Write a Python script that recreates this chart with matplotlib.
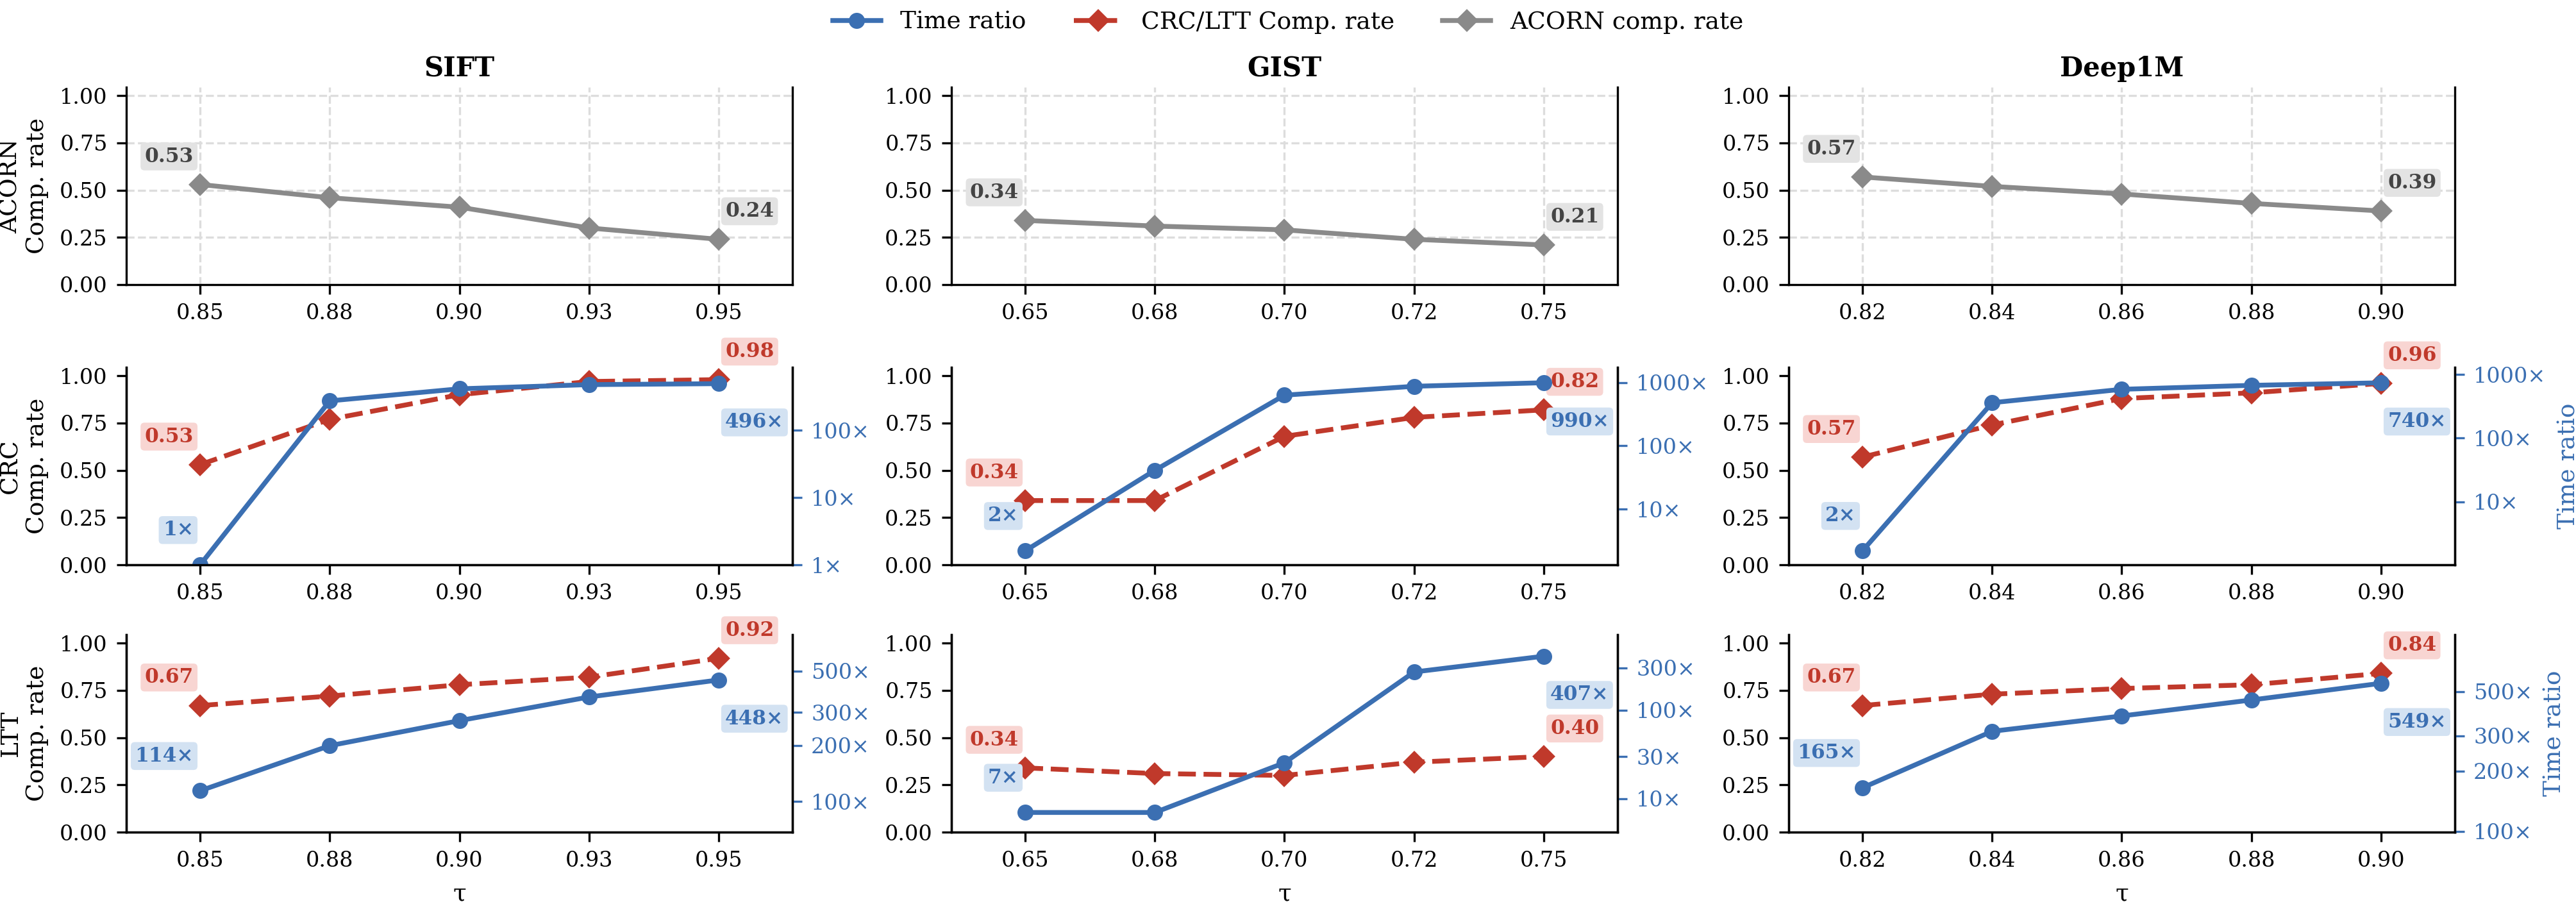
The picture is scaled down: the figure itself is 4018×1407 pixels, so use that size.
import matplotlib
matplotlib.use('Agg')
import matplotlib.pyplot as plt
from matplotlib.ticker import NullLocator

plt.rcParams['font.family'] = ['DejaVu Serif']
plt.rcParams['font.size'] = 8

datasets = ['SIFT', 'GIST', 'Deep1M']

tau_sift = [0.85, 0.875, 0.90, 0.925, 0.95]
tau_gist = [0.65, 0.675, 0.70, 0.725, 0.75]
tau_deep = [0.82, 0.84, 0.86, 0.88, 0.90]

acorn_sift = [0.53, 0.46, 0.41, 0.30, 0.24]
acorn_gist = [0.34, 0.31, 0.29, 0.24, 0.21]
acorn_deep = [0.57, 0.52, 0.48, 0.43, 0.39]

crc_sift = [0.53, 0.77, 0.90, 0.97, 0.98]
crc_gist = [0.34, 0.34, 0.68, 0.78, 0.82]
crc_deep = [0.57, 0.74, 0.88, 0.91, 0.96]

crc_time_sift = [1.0, 275, 416, 480, 496]
crc_time_gist = [2.2, 41, 630, 870, 990]
crc_time_deep = [1.7, 360, 585, 675, 740]

ltt_sift = [0.67, 0.72, 0.78, 0.82, 0.92]
ltt_gist = [0.34, 0.31, 0.30, 0.37, 0.40]
ltt_deep = [0.67, 0.73, 0.76, 0.78, 0.84]

ltt_time_sift = [114, 199, 271, 363, 448]
ltt_time_gist = [7, 7, 25.5, 270, 407]
ltt_time_deep = [165, 316, 377, 453, 549]

crc_ticks = [[1, 10, 100], [10, 100, 1000], [10, 100, 1000]]
ltt_ticks = [[100, 200, 300, 500], [10, 30, 100, 300], [100, 200, 300, 500]]

taus = [tau_sift, tau_gist, tau_deep]
acorn = [acorn_sift, acorn_gist, acorn_deep]
rows = [
    ('CRC\nComp. rate', [crc_sift, crc_gist, crc_deep],
     [crc_time_sift, crc_time_gist, crc_time_deep], crc_ticks),
    ('LTT\nComp. rate', [ltt_sift, ltt_gist, ltt_deep],
     [ltt_time_sift, ltt_time_gist, ltt_time_deep], ltt_ticks),
]

BLUE = '#3b6fb2'
RED = '#c0392b'
GRAY = '#8a8a8a'

W, H = 4018, 1407
fig = plt.figure(figsize=(W / 300, H / 300), dpi=300)

col_left = [197, 1484, 2790]
row_top = [136, 573, 990]
cw, rh = 1039, 308


def new_ax(r, c):
    return fig.add_axes([col_left[c] / W, 1 - (row_top[r] + rh) / H, cw / W, rh / H])


def tag(ax, x, y, txt, fg, bg, dx, dy, ha):
    ax.annotate(txt, (x, y), xytext=(dx, dy), textcoords='offset points',
                ha=ha, va='center', fontsize=7.5, fontweight='bold', color=fg,
                bbox=dict(boxstyle='round,pad=0.2', fc=bg, ec='none'))


def setup_x(ax, t):
    step = (t[-1] - t[0]) / 4
    ax.set_xticks(t)
    ax.set_xticklabels([f'{v:.2f}' for v in t])
    ax.set_xlim(t[0] - 0.57 * step, t[-1] + 0.57 * step)
    ax.set_ylim(0, 1.045)
    ax.set_yticks([0, 0.25, 0.5, 0.75, 1.0])
    ax.spines['top'].set_visible(False)


# top row: ACORN
for c in range(3):
    ax = new_ax(0, c)
    t = taus[c]
    h_gray, = ax.plot(t, acorn[c], color=GRAY, marker='D', ms=5, lw=1.8,
                      label='ACORN comp. rate')
    setup_x(ax, t)
    ax.grid(True, ls='--', color='#dddddd', lw=0.8)
    ax.set_axisbelow(True)
    ax.set_title(datasets[c], fontsize=10, fontweight='bold', pad=4)
    tag(ax, t[0], acorn[c][0], f'{acorn[c][0]:.2f}', '#444444', '#e3e3e3', -2.5, 10.5, 'right')
    tag(ax, t[-1], acorn[c][-1], f'{acorn[c][-1]:.2f}', '#444444', '#e3e3e3', 2.5, 10.5, 'left')
    if c == 0:
        ax.set_ylabel('ACORN\nComp. rate', fontsize=9)

# CRC and LTT rows
for r, (ylab, rates, times, ticks) in enumerate(rows, start=1):
    for c in range(3):
        ax = new_ax(r, c)
        t = taus[c]
        rate = rates[c]
        tm = times[c]
        h_red, = ax.plot(t, rate, color=RED, ls='--', marker='D', ms=5, lw=1.8,
                         label='CRC/LTT Comp. rate')
        setup_x(ax, t)
        tag(ax, t[0], rate[0], f'{rate[0]:.2f}', RED, '#f8d5d2', -2.5, 10.5, 'right')
        tag(ax, t[-1], rate[-1], f'{rate[-1]:.2f}', RED, '#f8d5d2', 2.5, 10.5, 'left')
        if c == 0:
            ax.set_ylabel(ylab, fontsize=9)
        if r == 2:
            ax.set_xlabel('τ', fontsize=9)

        ax2 = ax.twinx()
        h_blue, = ax2.plot(t, tm, color=BLUE, marker='o', ms=5, lw=1.8, label='Time ratio')
        ax2.set_yscale('log')
        ax2.set_ylim(max(1, min(tm) * 0.6), max(tm) * 1.75)
        ax2.set_yticks(ticks[c])
        ax2.set_yticklabels([f'{v}×' for v in ticks[c]])
        ax2.yaxis.set_minor_locator(NullLocator())
        ax2.tick_params(axis='y', colors=BLUE)
        ax2.spines['top'].set_visible(False)
        tag(ax2, t[0], tm[0], f'{tm[0]:.0f}×', BLUE, '#d3e2f2', -2.5, 13, 'right')
        tag(ax2, t[-1], tm[-1], f'{tm[-1]:.0f}×', BLUE, '#d3e2f2', 2.5, -14.5, 'left')
        if c == 2:
            ax2.set_ylabel('Time ratio', color=BLUE, fontsize=9)

fig.legend([h_blue, h_red, h_gray], ['Time ratio', 'CRC/LTT Comp. rate', 'ACORN comp. rate'],
           loc='upper center', bbox_to_anchor=(0.5, 1.012), ncol=3, frameon=False, fontsize=9)

fig.savefig('out.png', dpi=300)
